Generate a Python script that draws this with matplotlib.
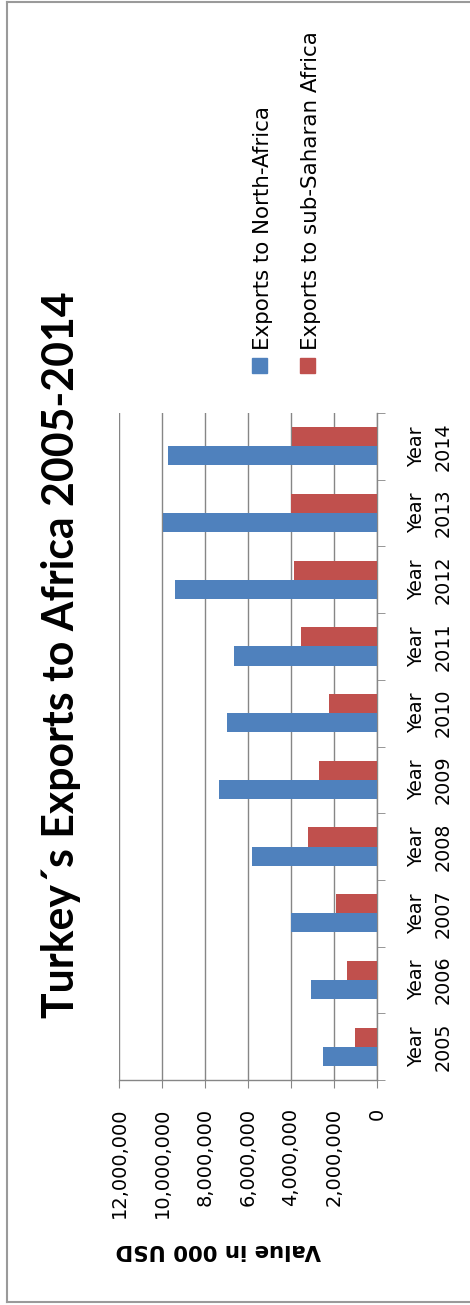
import numpy as np
import matplotlib
matplotlib.use('Agg')
import matplotlib.pyplot as plt
from matplotlib.lines import Line2D
from matplotlib.patches import Rectangle
from matplotlib.ticker import FuncFormatter

years = ['2005', '2006', '2007', '2008', '2009', '2010', '2011', '2012', '2013', '2014']
north_africa = [2530000, 3080000, 4000000, 5800000, 7360000, 6990000, 6640000, 9410000, 9950000, 9710000]
sub_saharan = [1020000, 1410000, 1920000, 3190000, 2710000, 2250000, 3550000, 3850000, 4010000, 3940000]
series_names = ['Exports to North-Africa', 'Exports to sub-Saharan Africa']
colors = ['#4F81BD', '#C0504D']
grid_col = '#868686'

W, H = 470, 1305
fig = plt.figure(figsize=(W / 100, H / 100), dpi=100)


def fx(px):
    return px / W


def fy(py):
    return 1 - py / H


# plot area (chart is laid on its side: values run right-to-left)
ax = fig.add_axes([fx(119), fy(1080), fx(377) - fx(119), fy(413) - fy(1080)])

y = np.arange(len(years))
bh = 0.286
ax.barh(y - bh / 2, north_africa, height=bh, color=colors[0], zorder=3)
ax.barh(y + bh / 2, sub_saharan, height=bh, color=colors[1], zorder=3)

ax.set_xlim(12000000, 0)
ax.set_ylim(-0.5, len(years) - 0.5)
ax.set_xticks(np.arange(0, 12000001, 2000000))
ax.xaxis.set_major_formatter(FuncFormatter(lambda v, p: '{:,.0f}'.format(v)))
ax.grid(axis='x', color=grid_col, lw=1, zorder=0)

for s in ['left', 'top']:
    ax.spines[s].set_visible(False)
for s in ['right', 'bottom']:
    ax.spines[s].set_color(grid_col)
    ax.spines[s].set_linewidth(1)

ax.tick_params(axis='x', direction='out', length=5.8, color=grid_col,
               labelsize=14, labelrotation=90, pad=14)

ax.yaxis.set_ticks_position('right')
ax.set_yticks(y)
ax.set_yticklabels(['Year\n' + yr for yr in years])
ax.set_yticks(np.arange(-0.5, len(years), 1), minor=True)
ax.tick_params(axis='y', which='major', length=0, pad=22, labelsize=13.8)
ax.tick_params(axis='y', which='minor', length=5.8, color=grid_col, direction='out')
for lbl in ax.get_yticklabels():
    lbl.set_rotation(90)
    lbl.set_va('center')
    lbl.set_ha('left')
    lbl.set_multialignment('center')
    lbl.set_linespacing(1.45)

# axis title, upside down
fig.text(fx(218), fy(1250), 'Value in 000 USD', rotation=180, ha='center', va='center',
         fontsize=15.3, fontweight='bold')

# chart title
fig.text(fx(61), fy(655), 'Turkey\u00b4s Exports to Africa 2005-2014', rotation=90,
         ha='center', va='center', fontsize=30.8, fontweight='bold', family='Lato')

# legend
for i, (name, c) in enumerate(zip(series_names, colors)):
    x0 = 252 + i * 48
    fig.add_artist(Rectangle((fx(x0), fy(373)), fx(15), fy(358) - fy(373),
                             transform=fig.transFigure, color=c))
    fig.text(fx(x0 + 11), fy(350), name, rotation=90, rotation_mode='anchor',
             ha='left', va='center', fontsize=15.4)

# outer frame, open on the right
frame = dict(color='#9a9a9a', lw=1.5, transform=fig.transFigure)
fig.add_artist(Line2D([fx(7), 1.05], [fy(2), fy(2)], **frame))
fig.add_artist(Line2D([fx(7), fx(7)], [fy(2), fy(1302)], **frame))
fig.add_artist(Line2D([fx(7), 1.05], [fy(1302), fy(1302)], **frame))

fig.savefig('out.png', dpi=100)
